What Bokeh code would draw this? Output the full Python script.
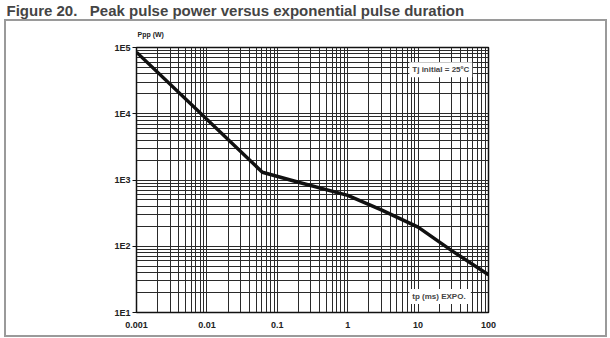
from bokeh.plotting import figure
from bokeh.models import FixedTicker, Label, CustomJSTickFormatter, Title
from bokeh.embed import file_html
from bokeh.resources import INLINE

# data
tp_ms = [0.001, 0.0613, 0.2, 1, 3, 10, 30, 100]
ppp_w = [85000, 1310, 925, 585, 355, 194, 86, 37]

x_major = [0.001, 0.01, 0.1, 1, 10, 100]
x_labels = ["0.001", "0.01", "0.1", "1", "10", "100"]
y_major = [10, 100, 1000, 10000, 100000]
y_labels = ["1E1", "1E2", "1E3", "1E4", "1E5"]

x_minor = [m * d for d in x_major[:-1] for m in range(2, 10)]
y_minor = [m * d for d in y_major[:-1] for m in range(2, 10)]

FONT = "Liberation Sans"

p = figure(width=610, height=338, x_axis_type="log", y_axis_type="log",
           x_range=(0.001, 100), y_range=(10, 100000),
           output_backend="svg", toolbar_location=None,
           min_border_left=136, min_border_right=122,
           min_border_top=47, min_border_bottom=26)

p.title.text = "Figure 20.\u00a0\u00a0\u00a0Peak pulse power versus exponential pulse duration"
p.title.text_font = FONT
p.title.text_font_size = "15px"
p.title.text_font_style = "bold"
p.title.align = "left"
p.title.offset = -130
p.title.vertical_align = "top"
p.title.standoff = 2

# y quantity label above the plot area
p.add_layout(Title(text="Ppp (W)", text_font=FONT, text_font_size="7px",
                   text_font_style="bold", text_color="#222222",
                   align="left", offset=1, vertical_align="middle",
                   standoff=17), "above")

# outer frame box drawn by the page element behind a transparent canvas border
p.border_fill_alpha = 0
grad = "linear-gradient(#9a9a9a,#9a9a9a)"
p.styles = {"background": ", ".join([
    f"{grad} 4px 19px / 603px 2px no-repeat",
    f"{grad} 4px 335px / 603px 2px no-repeat",
    f"{grad} 4px 19px / 2px 318px no-repeat",
    f"{grad} 605px 19px / 2px 318px no-repeat",
    "white"])}

fmt_code = """
let best = -1, bd = 1e9;
for (let i = 0; i < vals.length; i++) {
  const d = Math.abs(Math.log10(vals[i]) - Math.log10(tick));
  if (d < bd) { bd = d; best = i; }
}
return bd < 1e-6 ? labs[best] : "";
"""
p.xaxis.ticker = FixedTicker(ticks=x_major, minor_ticks=x_minor)
p.yaxis.ticker = FixedTicker(ticks=y_major, minor_ticks=y_minor)
p.xaxis.formatter = CustomJSTickFormatter(args=dict(vals=x_major, labs=x_labels), code=fmt_code)
p.yaxis.formatter = CustomJSTickFormatter(args=dict(vals=y_major, labs=y_labels), code=fmt_code)

for ax in (p.xaxis, p.yaxis):
    ax.major_label_text_font = FONT
    ax.major_label_text_font_style = "bold"
    ax.major_label_text_font_size = "9px"
    ax.major_label_text_color = "#222222"
    ax.minor_tick_line_color = None
    ax.axis_line_color = "#111111"
    ax.major_tick_line_color = "#111111"
    ax.major_tick_in = 0

p.xaxis.major_tick_out = 0
p.xaxis.major_label_standoff = 5
p.yaxis.major_tick_out = 4
p.yaxis.major_label_standoff = 2

for g in (p.xgrid, p.ygrid):
    g.grid_line_color = "#2a2a2a"
    g.grid_line_width = 1
    g.minor_grid_line_color = "#2a2a2a"
    g.minor_grid_line_width = 1

p.outline_line_color = "#111111"
p.outline_line_width = 1.5

p.line(tp_ms, ppp_w, line_color="#111111", line_width=3.5)

p.add_layout(Label(x=7.5, y=46000, text="Tj initial = 25ºC",
                   text_font=FONT, text_font_style="bold", text_font_size="8px",
                   text_baseline="middle", text_align="left",
                   background_fill_color="white", padding=3))
p.add_layout(Label(x=7.5, y=17.5, text="tp (ms)  EXPO.",
                   text_font=FONT, text_font_style="bold", text_font_size="8px",
                   text_baseline="middle", text_align="left",
                   background_fill_color="white", padding=3))

open("out.html", "w").write(file_html(p, INLINE))
